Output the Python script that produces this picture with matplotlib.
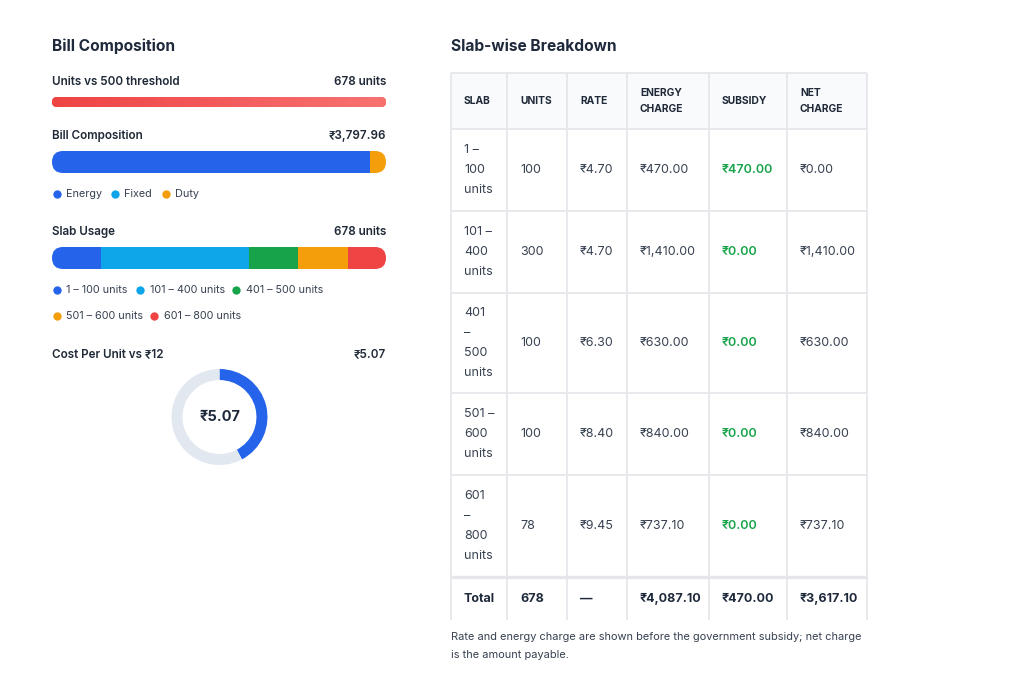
import matplotlib
matplotlib.use("Agg")
import matplotlib.pyplot as plt
from matplotlib.patches import FancyBboxPatch, Rectangle
from matplotlib.colors import LinearSegmentedColormap
import numpy as np

# ---------------- data ----------------
units_consumed = 678
threshold_units = 500
composition_labels = ["Energy", "Fixed", "Duty"]
composition_values = [3617.10, 0.00, 180.86]
bill_total = 3797.96
slab_labels = ["1 – 100 units", "101 – 400 units", "401 – 500 units",
               "501 – 600 units", "601 – 800 units"]
slab_cell_lines = [["1 –", "100", "units"], ["101 –", "400", "units"],
                   ["401", "–", "500", "units"], ["501 –", "600", "units"],
                   ["601", "–", "800", "units"]]
slab_units = [100, 300, 100, 100, 78]
slab_rates = [4.70, 4.70, 6.30, 8.40, 9.45]
energy_charges = [470.00, 1410.00, 630.00, 840.00, 737.10]
subsidies = [470.00, 0.00, 0.00, 0.00, 0.00]
net_charges = [0.00, 1410.00, 630.00, 840.00, 737.10]
cost_per_unit = 5.07
cost_benchmark = 12
table_headers = [["SLAB"], ["UNITS"], ["RATE"], ["ENERGY", "CHARGE"], ["SUBSIDY"], ["NET", "CHARGE"]]

# ---------------- style ----------------
FAM = ["Inter", "DejaVu Sans"]
plt.rcParams["font.family"] = FAM
DARK = "#1e293b"
TXT = "#374151"
GRID = "#e5e7eb"
BLUE, SKY, GREEN, ORANGE, RED = "#2563eb", "#0ea5e9", "#16a34a", "#f59e0b", "#ef4444"
comp_colors = [BLUE, SKY, ORANGE]
slab_colors = [BLUE, SKY, GREEN, ORANGE, RED]

W, H = 1024, 691
fig = plt.figure(figsize=(W / 100, H / 100), dpi=100)
fig.patch.set_facecolor("white")
bg = fig.add_axes([0, 0, 1, 1])
bg.set_xlim(0, W)
bg.set_ylim(H, 0)
bg.axis("off")


def px_axes(x0, y0, w, h):
    return fig.add_axes([x0 / W, 1 - (y0 + h) / H, w / W, h / H])


def rupee(v):
    return "₹{:,.2f}".format(v)


def rounded_clip(x0, y0, w, h):
    return FancyBboxPatch((x0, y0), w, h, boxstyle=f"round,pad=0,rounding_size={h/2}",
                          transform=bg.transData)


def text(x, y, s, size=8.6, weight="normal", color=TXT, ha="left", va="center"):
    bg.text(x, y, s, fontsize=size, fontweight=weight, color=color, ha=ha, va=va, family=FAM)


BX0, BX1 = 52, 386
BW = BX1 - BX0

# ---------------- left panel ----------------
text(BX0, 46, "Bill Composition", size=11.2, weight="bold", color=DARK)

# Units vs threshold
text(BX0, 82, f"Units vs {threshold_units} threshold", size=8.4, weight="semibold", color="#1f2937")
text(BX1, 82, f"{units_consumed} units", size=8.4, weight="semibold", color="#1f2937", ha="right")
y0, h = 97, 10
ax = px_axes(BX0, y0, BW, h)
ax.set_xlim(0, threshold_units)
ax.set_ylim(-0.5, 0.5)
ax.axis("off")
filled = min(units_consumed, threshold_units)
bars = ax.barh([0], [filled], height=1, color=RED, zorder=1)
cmap = LinearSegmentedColormap.from_list("g", ["#ef4444", "#f87171"])
im = ax.imshow(np.linspace(0, 1, 256).reshape(1, -1), cmap=cmap, aspect="auto",
               extent=[0, filled, -0.5, 0.5], zorder=3, interpolation="bilinear")
ax.set_xlim(0, threshold_units)
ax.set_ylim(-0.5, 0.5)
clip = rounded_clip(BX0, y0, BW * filled / threshold_units, h)
for b in bars:
    b.set_clip_path(clip)
im.set_clip_path(clip)

# Bill composition
text(BX0, 136, "Bill Composition", size=8.4, weight="semibold", color="#1f2937")
text(BX1, 136, rupee(bill_total), size=8.4, weight="semibold", color="#1f2937", ha="right")
y0, h = 151, 22
ax = px_axes(BX0, y0, BW, h)
ax.set_xlim(0, sum(composition_values))
ax.set_ylim(-0.5, 0.5)
ax.axis("off")
clip = rounded_clip(BX0, y0, BW, h)
left = 0
for v, c in zip(composition_values, comp_colors):
    for b in ax.barh([0], [v], left=left, height=1, color=c, linewidth=0):
        b.set_clip_path(clip)
    left += v
leg_x = [57, 115, 166]
for lx, lab, c in zip(leg_x, composition_labels, comp_colors):
    bg.plot(lx, 194, "o", ms=6, color=c, mec="none")
    text(lx + 9, 194, lab, size=7.8)

# Slab usage
text(BX0, 232, "Slab Usage", size=8.4, weight="semibold", color="#1f2937")
text(BX1, 232, f"{sum(slab_units)} units", size=8.4, weight="semibold", color="#1f2937", ha="right")
y0, h = 247, 22
ax = px_axes(BX0, y0, BW, h)
ax.set_xlim(0, sum(slab_units))
ax.set_ylim(-0.5, 0.5)
ax.axis("off")
clip = rounded_clip(BX0, y0, BW, h)
left = 0
for v, c in zip(slab_units, slab_colors):
    for b in ax.barh([0], [v], left=left, height=1, color=c, linewidth=0):
        b.set_clip_path(clip)
    left += v
leg_pos = [(57, 290), (140, 290), (236, 290), (57, 316), (154, 316)]
for (lx, ly), lab, c in zip(leg_pos, slab_labels, slab_colors):
    bg.plot(lx, ly, "o", ms=6, color=c, mec="none")
    text(lx + 9.5, ly, lab, size=7.8)

# Cost per unit donut
text(BX0, 354, f"Cost Per Unit vs ₹{cost_benchmark}", size=8.4, weight="semibold", color="#1f2937")
text(BX1, 354, f"₹{cost_per_unit:.2f}", size=8.4, weight="semibold", color="#1f2937", ha="right")
cx, cy, r = 219.5, 417, 48
ax = px_axes(cx - r, cy - r, 2 * r, 2 * r)
ax.pie([cost_per_unit, cost_benchmark - cost_per_unit], colors=[BLUE, "#e2e8f0"],
       startangle=90, counterclock=False, radius=1,
       wedgeprops=dict(width=0.23, linewidth=0))
ax.set_xlim(-1, 1)
ax.set_ylim(-1, 1)
ax.set_aspect("equal")
ax.text(0, 0, f"₹{cost_per_unit:.2f}", ha="center", va="center", fontsize=10.5,
        fontweight="bold", color=DARK, family=FAM)

# ---------------- table ----------------
text(451, 46, "Slab-wise Breakdown", size=11.2, weight="bold", color=DARK)
col_x = [451, 507, 567, 627, 709, 787, 867]
row_y = [73, 129, 211, 293, 393, 475, 577, 620]

bg.add_patch(Rectangle((col_x[0], row_y[0]), col_x[-1] - col_x[0], row_y[1] - row_y[0],
                       facecolor="#f8fafc", edgecolor="none", zorder=0))
for x in col_x:
    bg.plot([x, x], [row_y[0], row_y[-1]], color=GRID, lw=1.3, solid_capstyle="butt", zorder=1)
for i, y in enumerate(row_y[:-1]):
    bg.plot([col_x[0], col_x[-1]], [y, y], color=GRID, lw=2.4 if i == 6 else 1.3,
            solid_capstyle="butt", zorder=1)

pad = 13
# headers
for j, lines in enumerate(table_headers):
    ym = (row_y[0] + row_y[1]) / 2
    n = len(lines)
    for k, ln in enumerate(lines):
        yy = ym + (k - (n - 1) / 2) * 16
        text(col_x[j] + pad, yy, ln, size=7.4, weight="bold", color="#1f2937")

# body
for i in range(len(slab_units)):
    ym = (row_y[i + 1] + row_y[i + 2]) / 2
    lines = slab_cell_lines[i]
    n = len(lines)
    for k, ln in enumerate(lines):
        text(col_x[0] + pad, ym + (k - (n - 1) / 2) * 20, ln, size=9.0)
    vals = [str(slab_units[i]), f"₹{slab_rates[i]:.2f}", rupee(energy_charges[i]),
            rupee(subsidies[i]), rupee(net_charges[i])]
    for j, v in enumerate(vals, start=1):
        if j == 4:
            text(col_x[j] + pad, ym, v, size=9.0, weight="semibold", color="#16a34a")
        else:
            text(col_x[j] + pad, ym, v, size=9.0)

# total row
ym = (row_y[6] + row_y[7]) / 2
totals = ["Total", str(sum(slab_units)), "—", rupee(sum(energy_charges)),
          rupee(sum(subsidies)), rupee(sum(net_charges))]
for j, v in enumerate(totals):
    text(col_x[j] + pad, ym, v, size=9.0, weight="bold", color=DARK)

# note
text(451, 637, "Rate and energy charge are shown before the government subsidy; net charge",
     size=7.9, color=TXT)
text(451, 655, "is the amount payable.", size=7.9, color=TXT)

fig.savefig("out.png", dpi=100, facecolor="white")
